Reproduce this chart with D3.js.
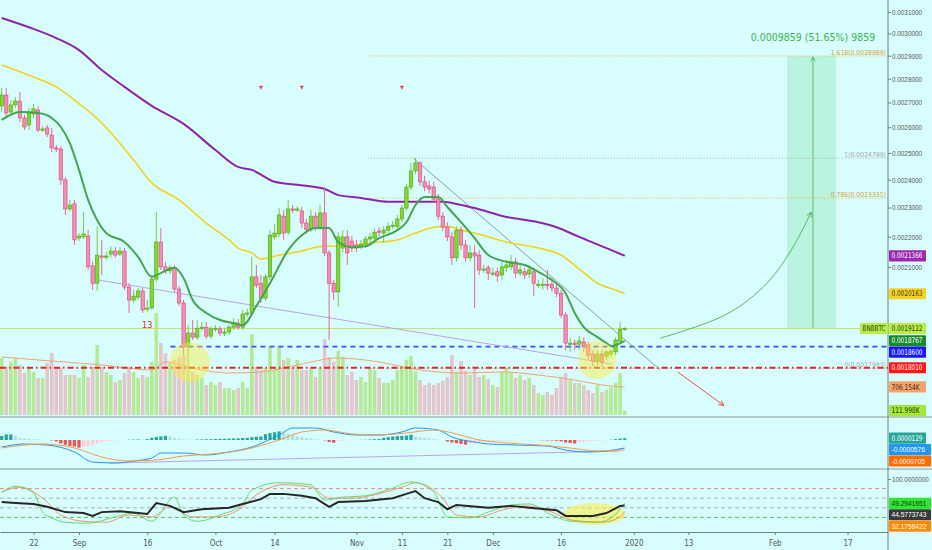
<!DOCTYPE html>
<html>
<head>
<meta charset="utf-8">
<script src="https://cdn.jsdelivr.net/npm/d3@7.9.0/dist/d3.min.js"></script>
<style>
  html, body { margin: 0; padding: 0; background: #d8fdfd; }
  svg { display: block; font-family: "Liberation Sans Narrow", "DejaVu Sans Condensed", "Liberation Sans", sans-serif; }
</style>
</head>
<body>
<svg id="chart" width="932" height="550"></svg>
<script>
// BNBBTC daily, prices in units of 1e-6 BTC, volume in K
const START = Date.UTC(2019, 7, 15);
const DAY = 864e5;

const open = [2686,2731,2661,2690,2706,2637,2609,2653,2669,2593,
  2597,2569,2519,2515,2399,2295,2313,2195,2199,2202,
  2104,2049,2136,2133,2142,2152,2142,2152,2037,1997,
  2006,2025,1973,1973,2062,2182,2101,2088,2098,2031,
  1988,1859,1899,1887,1913,1916,1890,1911,1911,1899,
  1902,1916,1928,1916,1955,1958,2069,2049,2003,2069,
  2199,2209,2270,2215,2295,2295,2288,2246,2225,2270,
  2232,2281,2146,2049,2022,2162,2199,2185,2172,2168,
  2175,2192,2195,2219,2212,2222,2235,2235,2260,2298,
  2373,2432,2462,2392,2377,2373,2330,2270,2232,2199,
  2130,2222,2172,2130,2146,2139,2094,2098,2081,2085,
  2075,2098,2101,2117,2081,2085,2078,2085,2046,2046,
  2046,2046,2034,2018,1952,1870,1870,1867,1873,1865,
  1839,1819,1839,1833,1839,1845,1876,1910];
const high = [2761,2761,2710,2723,2744,2649,2678,2694,2686,2605,
  2609,2597,2530,2526,2410,2327,2327,2212,2284,2222,
  2117,2235,2189,2149,2168,2165,2165,2162,2049,2028,
  2034,2034,1997,2075,2284,2229,2117,2107,2107,2040,
  1997,1922,1937,1937,1931,1931,1919,1922,1919,1913,
  1925,1943,1940,1967,1970,2133,2107,2075,2078,2222,
  2242,2298,2291,2327,2309,2305,2302,2260,2291,2284,
  2309,2373,2155,2059,2215,2222,2222,2202,2189,2189,
  2202,2212,2229,2232,2235,2249,2253,2274,2309,2384,
  2462,2480,2468,2414,2395,2392,2348,2284,2249,2215,
  2235,2235,2189,2172,2172,2155,2107,2107,2098,2098,
  2117,2123,2139,2130,2107,2098,2107,2098,2059,2065,
  2091,2065,2046,2028,1961,1884,1879,1890,1887,1873,
  1850,1850,1850,1850,1853,1887,1931,1916];
const low = [2661,2637,2649,2678,2621,2589,2589,2637,2581,2581,
  2561,2503,2503,2381,2274,2288,2172,2185,2192,2091,
  2028,2025,2075,2123,2130,2130,2136,2028,1958,1988,
  1997,1958,1961,1967,2053,2091,2078,2078,2022,1979,
  1836,1799.3,1879,1879,1905,1882,1882,1902,1890,1890,
  1893,1908,1908,1908,1946,1949,2034,1988,1994,2059,
  2189,2199,2189,2205,2281,2284,2229,2209,2215,2219,
  2222,2136,1879,1997,1976,2149,2107,2149,2149,2158,
  2162,2179,2182,2202,2179,2212,2225,2225,2249,2288,
  2362,2421,2377,2358,2351,2316,2256,2219,2185,2107,
  2117,2155,2117,2120,1973,2075,2081,2059,2072,2053,
  2059,2085,2091,2065,2072,2062,2065,2009,2034,2028,
  2028,2022,2006,1943,1850,1845,1850,1850,1845,1822,
  1805,1805,1803,1822,1830,1836,1870,1905];
const close = [2731,2657,2690,2706,2637,2601,2657,2674,2589,2593,
  2573,2519,2515,2399,2295,2309,2189,2202,2209,2101,
  2049,2139,2133,2136,2152,2139,2152,2037,1997,2009,
  2025,1967,1973,2062,2182,2101,2088,2098,2031,1988,
  1859,1899,1887,1913,1916,1890,1911,1913,1899,1902,
  1916,1928,1916,1955,1958,2069,2043,2003,2069,2205,
  2212,2274,2212,2295,2291,2295,2246,2225,2270,2232,
  2281,2146,2049,2022,2199,2199,2146,2162,2162,2175,
  2192,2199,2215,2215,2222,2235,2239,2260,2298,2373,
  2432,2462,2392,2373,2366,2330,2270,2232,2199,2130,
  2222,2172,2130,2146,2136,2091,2094,2081,2081,2072,
  2101,2107,2117,2081,2091,2075,2091,2049,2046,2046,
  2043,2034,2018,1952,1870,1870,1867,1876,1859,1836,
  1819,1839,1816,1845,1847,1879,1910,1912.2];
const volume = [1436,1210,1336,1436,1260,1058,1184,1084,932,932,
  1310,1562,1184,1184,1008,1008,1008,932,1260,958,
  1210,1764,1210,1084,1008,832,882,1058,1210,1084,
  932,1008,958,1336,2570,1814,1562,1310,1386,1462,
  1512,1210,1084,1008,932,756,832,756,832,680,
  680,630,680,832,680,2041,1210,1134,1184,1714,
  1134,1714,1386,1436,1184,1386,1134,1134,1184,958,
  1184,1915,1462,1336,1613,1462,1008,1084,882,958,
  832,1184,1134,932,806,806,882,1134,1210,1386,
  1487,1100,882,756,806,756,806,857,958,1512,
  1084,1360,1109,1008,1159,958,1008,907,756,706,
  1084,1184,1084,932,1008,882,932,756,554,504,
  580,504,680,958,1058,882,806,806,756,630,
  554,756,580,630,706,806,1058,112];

// moving averages (day index, value)
const emaFastDay = [0,4,8,11,13,15,17,19,21,23,27,30,33,35,38,40,42,45,48,51,53,56,59,63,66,69,72,74,77,80,83,87,89,91,93,96,98,101,104,107,111,115,118,121,124,126,128,131,133,134,137];
const emaFastVal = [2629,2661,2657,2637,2601,2537,2436,2327,2256,2212,2182,2133,2069,2081,2098,2065,1997,1958,1937,1928,1922,1979,2049,2155,2205,2229,2229,2182,2165,2168,2195,2222,2249,2309,2337,2337,2302,2249,2195,2139,2117,2107,2085,2059,2018,1958,1916,1887,1870,1862,1876.7];
const emaMidDay = [0,7,12,16,22,29,33,39,45,50,52,55,57,61,65,71,76,81,87,91,95,98,101,104,111,118,123,127,131,135,137];
const emaMidVal = [2859,2807,2765,2710,2617,2473,2388,2327,2246,2189,2162,2146,2126,2139,2149,2168,2168,2179,2189,2212,2232,2235,2222,2212,2182,2162,2139,2094,2049,2028,2016.3];
const emaSlowDay = [0,7,12,17,22,27,33,40,47,52,55,60,65,71,74,79,85,91,97,101,104,111,118,122,127,133,137];
const emaSlowVal = [3072,3021,2979,2925,2837,2765,2686,2613,2511,2447,2436,2392,2381,2366,2344,2334,2320,2320,2320,2309,2298,2267,2249,2232,2199,2162,2136.6];
const volMaDay = [0,8,22,33,36,44,50,57,65,74,83,92,101,110,118,126,132,137];
const volMaVal = [1462,1386,1260,1134,1336,1134,1058,1084,1260,1436,1336,1134,1058,1084,1008,882,756,706.154];

// MACD in units of 1e-7
const macdDay = [0,5,10,16,20,25,29,33,35,40,45,50,55,61,64,69,73,78,83,88,91,96,99,104,107,113,120,124,129,133,137];
const macdVal = [-504,-288,-360,-864,-1584,-1656,-1512,-1296,-936,-936,-1080,-864,-504,360,864,864,576,360,360,576,864,720,216,-144,-288,-360,-432,-720,-864,-792,-576];
const signalDay = [0,9,16,22,28,34,40,46,53,61,66,71,77,82,89,95,100,104,111,118,125,131,137];
const signalVal = [-576,-288,-576,-1224,-1512,-1440,-1152,-1008,-720,0,576,720,432,360,504,720,432,72,-216,-360,-576,-792,-705];
const histVal = [290,400,400,300,150,100,80,60,40,20,
  0,-30,-100,-250,-350,-430,-470,-550,-480,-450,
  -350,-250,-150,-100,-60,-30,-10,0,20,30,
  40,30,60,150,220,260,300,260,150,80,
  40,20,10,30,40,50,60,70,80,90,
  100,110,120,140,150,200,230,250,420,500,
  560,620,540,450,340,260,190,140,100,60,
  20,-30,-150,-200,-80,-40,-20,-10,0,10,
  20,40,60,70,150,200,250,280,300,320,
  380,250,200,150,100,60,30,0,-100,-180,
  -230,-280,-330,-260,-230,-200,-150,-120,-100,-80,
  -60,-40,-30,-20,-10,-5,0,0,-10,-20,
  -30,-40,-60,-100,-180,-220,-250,-150,-110,-90,
  -70,-50,-30,-10,20,60,100,129];

// oscillator pane
const oscDay = [0,3,7,10,14,18,20,22,26,30,32,34,37,40,44,50,53,57,59,62,66,69,72,74,80,86,89,91,93,96,98,100,107,112,116,122,124,130,133,136,137];
const oscVal = [52,50,48,42,31,29,23,31,33,29,27,50,44,31,37,40,48,58,69,69,65,60,42,52,54,60,69,75,60,52,37,46,40,44,40,35,23,23,29,44,44.5773743];
const bandUpDay = [0,3,7,9,11,14,19,25,29,33,38,40,43,48,53,55,61,68,71,75,80,86,90,95,98,103,107,112,116,121,125,131,134,137];
const bandUpVal = [71,85,71,31,19,10,8,21,29,12,62,25,12,25,48,77,92,88,56,62,65,81,94,73,21,19,31,46,48,25,12,10,19,49.2941951];
const bandLoDay = [0,4,9,13,18,23,28,33,37,42,47,52,56,62,68,72,77,82,88,91,97,100,105,110,115,121,125,132,136,137];
const bandLoVal = [73,83,60,25,12,10,25,21,42,21,21,35,67,88,83,60,60,67,83,92,60,25,21,35,44,31,15,10,21,32.1758422];
const oscLevels = [80, 60, 40, 20];

// drawings
const fibLevels = ['1.618', '1', '0.786', '0'];
const fibPrices = [2898.9, 2479.9, 2333.5, 1799.3];
const fibStartDay = 80.5;
const projDays = [172.7, 183.5];
const projPrices = [1912.2, 2898.9];
const projMidDay = 178.4;
const arcDay = [144.8, 159.5, 168.3, 174, 178];
const arcPrice = [1884, 1955, 2049, 2165, 2284];
const downDay = [148.7, 158.8];
const downPrice = [1789, 1700];
const peakTrendDay = [90.5, 144.8];
const peakTrendPrice = [2480, 1795];
const supportDay = [21.2, 134.2];
const supportPrice = [2059, 1811];
const macdTrendDay = [23.8, 136];
const macdTrendVal = [-1656, -792];
const sellMarkDay = [57, 66, 88];
const sellMarkPrice = 2761;

const tickDates = ['2019-08-22','2019-09-01','2019-09-16','2019-10-01','2019-10-14','2019-11-01','2019-11-11',
  '2019-11-21','2019-12-01','2019-12-16','2020-01-01','2020-01-13','2020-02-01','2020-02-17'];
const priceTicks = [2100,2200,2300,2400,2500,2600,2700,2800,2900,3000,3100];

// ---------------------------------------------------------------
const W = 932, AX = 888;
const MAIN_B = 415, MACD_T = 417, MACD_B = 469, OSC_B = 532;
const toDate = i => new Date(START + i * DAY);

const x = d3.scaleUtc().domain([toDate(-0.374), toDate(194.9)]).range([0, AX]);
const xd = i => x(toDate(i));
const y = d3.scaleLog().domain([1675.6, 3157.3]).range([MAIN_B, 0]);
const yVol = d3.scaleLinear().domain([0, 2570]).range([MAIN_B, 313]);
const yMacd = d3.scaleLinear().domain([-2088, 1656]).range([MACD_B, MACD_T]);
const yOsc = d3.scaleLinear().domain([0, 100]).range([527, 479]);

const svg = d3.select('#chart');
svg.append('rect').attr('width', W).attr('height', 550).attr('fill', '#d8fdfd');

const defs = svg.append('defs');
[['clipMain', 0, 0, AX, 416], ['clipMacd', 0, MACD_T, AX, MACD_B - MACD_T], ['clipOsc', 0, MACD_B, AX, OSC_B - MACD_B]]
  .forEach(([id, cx, cy, cw, ch]) => {
    defs.append('clipPath').attr('id', id).append('rect').attr('x', cx).attr('y', cy).attr('width', cw).attr('height', ch);
  });
function arrowHead(id, color) {
  defs.append('marker').attr('id', id).attr('viewBox', '0 0 10 10').attr('refX', 9).attr('refY', 5)
    .attr('markerWidth', 7).attr('markerHeight', 7).attr('orient', 'auto-start-reverse')
    .append('path').attr('d', 'M1,1 L9,5 L1,9').attr('fill', 'none').attr('stroke', color).attr('stroke-width', 1.3);
}
arrowHead('arrGreen', '#4caf50');
arrowHead('arrRed', '#ef3b3b');

const candles = open.map((o, i) => ({ i, o, h: high[i], l: low[i], c: close[i], v: volume[i] }));
const pts = (days, vals) => days.map((d, k) => [d, vals[k]]);

// ---------------- main pane ----------------
const gMain = svg.append('g').attr('clip-path', 'url(#clipMain)');

// volume
gMain.append('g').selectAll('rect').data(candles).join('rect')
  .attr('x', d => xd(d.i) - 1.8).attr('width', 3.6)
  .attr('y', d => yVol(d.v)).attr('height', d => MAIN_B - yVol(d.v))
  .attr('fill', d => d.c >= d.o ? '#b4ea96' : '#e2c6cb');
gMain.append('path').datum(pts(volMaDay, volMaVal))
  .attr('d', d3.line().x(d => xd(d[0])).y(d => yVol(d[1])).curve(d3.curveMonotoneX))
  .attr('fill', 'none').attr('stroke', '#f2a36e').attr('stroke-width', 1);

// projection box
gMain.append('rect')
  .attr('x', xd(projDays[0])).attr('width', xd(projDays[1]) - xd(projDays[0]))
  .attr('y', y(projPrices[1])).attr('height', y(projPrices[0]) - y(projPrices[1]))
  .attr('fill', 'rgba(70, 205, 110, 0.2)');
gMain.append('line')
  .attr('x1', xd(projMidDay)).attr('x2', xd(projMidDay))
  .attr('y1', y(projPrices[0])).attr('y2', y(projPrices[1]) + 1)
  .attr('stroke', '#4caf50').attr('stroke-width', 0.8).attr('marker-end', 'url(#arrGreen)');

// fib levels
fibLevels.forEach((lv, k) => {
  const col = (lv === '1' || lv === '0') ? '#a9a9a9' : '#e8b04a';
  const yy = y(fibPrices[k]);
  gMain.append('line').attr('x1', xd(fibStartDay)).attr('x2', AX).attr('y1', yy).attr('y2', yy)
    .attr('stroke', col).attr('stroke-width', 1).attr('stroke-dasharray', '1,2');
});

// horizontal levels
gMain.append('line').attr('x1', 0).attr('x2', 860).attr('y1', y(close[close.length - 1])).attr('y2', y(close[close.length - 1]))
  .attr('stroke', '#c3e56a').attr('stroke-width', 1);
gMain.append('line').attr('x1', xd(37.1)).attr('x2', AX).attr('y1', y(1860)).attr('y2', y(1860))
  .attr('stroke', '#3d4dff').attr('stroke-width', 1.6).attr('stroke-dasharray', '5,4');
gMain.append('line').attr('x1', 0).attr('x2', AX).attr('y1', y(1801)).attr('y2', y(1801))
  .attr('stroke', '#e3262a').attr('stroke-width', 1.8).attr('stroke-dasharray', '6,3,1.5,3');

// trend lines
const lineP = d3.line().x(d => xd(d[0])).y(d => y(d[1]));
gMain.append('path').datum(pts(supportDay, supportPrice)).attr('d', lineP)
  .attr('fill', 'none').attr('stroke', '#b9a4ea').attr('stroke-width', 1);
gMain.append('path').datum(pts(peakTrendDay, peakTrendPrice)).attr('d', lineP)
  .attr('fill', 'none').attr('stroke', '#8a8f8f').attr('stroke-width', 0.9);

// moving averages
const lineMA = d3.line().x(d => xd(d[0])).y(d => y(d[1])).curve(d3.curveMonotoneX);
gMain.append('path').datum(pts(emaSlowDay, emaSlowVal)).attr('d', lineMA)
  .attr('fill', 'none').attr('stroke', '#8e24aa').attr('stroke-width', 2);
gMain.append('path').datum(pts(emaMidDay, emaMidVal)).attr('d', lineMA)
  .attr('fill', 'none').attr('stroke', '#f1d21c').attr('stroke-width', 1.6);

// candles
const gC = gMain.append('g');
gC.selectAll('line').data(candles).join('line')
  .attr('x1', d => xd(d.i)).attr('x2', d => xd(d.i))
  .attr('y1', d => y(d.h)).attr('y2', d => y(d.l))
  .attr('stroke', d => d.c >= d.o ? '#7cc94a' : '#e26b91').attr('stroke-width', 1);
gC.selectAll('rect').data(candles).join('rect')
  .attr('x', d => xd(d.i) - 1.7).attr('width', 3.4)
  .attr('y', d => y(Math.max(d.o, d.c)))
  .attr('height', d => Math.max(1.2, Math.abs(y(d.o) - y(d.c))))
  .attr('fill', d => d.c >= d.o ? '#82d92c' : '#f48db2')
  .attr('stroke', d => d.c >= d.o ? '#4fa018' : '#d9467a').attr('stroke-width', 0.6);

gMain.append('path').datum(pts(emaFastDay, emaFastVal)).attr('d', lineMA)
  .attr('fill', 'none').attr('stroke', '#45a44f').attr('stroke-width', 2);

// highlights
[[41.4, 1817, 20, 20], [130.9, 1822, 19, 19]].forEach(([d, p, rx, ry]) => {
  gMain.append('ellipse').attr('cx', xd(d)).attr('cy', y(p)).attr('rx', rx).attr('ry', ry)
    .attr('fill', 'rgba(255, 236, 60, 0.45)');
});

// markers
gMain.selectAll('path.sell').data(sellMarkDay).join('path').attr('class', 'sell')
  .attr('d', d => `M${xd(d) - 2},${y(sellMarkPrice) - 2} L${xd(d) + 2},${y(sellMarkPrice) - 2} L${xd(d)},${y(sellMarkPrice) + 2}Z`)
  .attr('fill', '#e0405a');
gMain.append('text').attr('x', xd(32)).attr('y', y(1922) + 3).attr('text-anchor', 'middle')
  .attr('font-size', 9).attr('fill', '#e3262a').text('13');

// forecast arrows
gMain.append('path').datum(pts(arcDay, arcPrice))
  .attr('d', d3.line().x(d => xd(d[0])).y(d => y(d[1])).curve(d3.curveCatmullRom))
  .attr('fill', 'none').attr('stroke', '#4caf50').attr('stroke-width', 0.9).attr('marker-end', 'url(#arrGreen)');
gMain.append('path').datum(pts(downDay, downPrice)).attr('d', lineP)
  .attr('fill', 'none').attr('stroke', '#ef3b3b').attr('stroke-width', 0.9).attr('marker-end', 'url(#arrRed)');

// labels on drawings (not clipped)
svg.append('text').attr('x', xd(projMidDay)).attr('y', 41).attr('text-anchor', 'middle')
  .attr('font-size', 10.5).attr('fill', '#3cb54a').text('0.0009859 (51.65%) 9859');
fibLevels.forEach((lv, k) => {
  const col = (lv === '1' || lv === '0') ? '#a9a9a9' : '#dca53c';
  svg.append('text').attr('x', 886).attr('y', y(fibPrices[k]) - 1).attr('text-anchor', 'end')
    .attr('font-size', 6.8).attr('fill', col).text(`${lv}(${(fibPrices[k] * 1e-6).toFixed(7)})`);
});

// ---------------- MACD pane ----------------
const gMacd = svg.append('g').attr('clip-path', 'url(#clipMacd)');
gMacd.selectAll('rect').data(histVal).join('rect')
  .attr('x', (v, i) => xd(i) - 1.6).attr('width', 3.2)
  .attr('y', v => Math.min(yMacd(v), yMacd(0)))
  .attr('height', v => Math.abs(yMacd(v) - yMacd(0)))
  .attr('fill', (v, i) => {
    const prev = i > 0 ? histVal[i - 1] : v;
    if (v >= 0) return v >= prev ? '#26a69a' : '#b2dfdb';
    return v <= prev ? '#ef5350' : '#ffcdd2';
  });
const lineM = d3.line().x(d => xd(d[0])).y(d => yMacd(d[1])).curve(d3.curveMonotoneX);
gMacd.append('path').datum(pts(macdTrendDay, macdTrendVal)).attr('d', lineM)
  .attr('fill', 'none').attr('stroke', '#b9a4ea').attr('stroke-width', 1);
gMacd.append('path').datum(pts(macdDay, macdVal)).attr('d', lineM)
  .attr('fill', 'none').attr('stroke', '#2196f3').attr('stroke-width', 1);
gMacd.append('path').datum(pts(signalDay, signalVal)).attr('d', lineM)
  .attr('fill', 'none').attr('stroke', '#f39a4a').attr('stroke-width', 1);

// ---------------- oscillator pane ----------------
const gOsc = svg.append('g').attr('clip-path', 'url(#clipOsc)');
const levelColors = ['#e88a8a', '#a9b0b0', '#a9b0b0', '#55c25d'];
oscLevels.forEach((lv, k) => {
  gOsc.append('line').attr('x1', 0).attr('x2', AX).attr('y1', yOsc(lv)).attr('y2', yOsc(lv))
    .attr('stroke', levelColors[k]).attr('stroke-width', 1).attr('stroke-dasharray', '4,3');
});
gOsc.append('ellipse').attr('cx', xd(130.3)).attr('cy', yOsc(27)).attr('rx', 31).attr('ry', 11)
  .attr('fill', 'rgba(255, 236, 60, 0.55)');
const lineO = d3.line().x(d => xd(d[0])).y(d => yOsc(d[1])).curve(d3.curveMonotoneX);
gOsc.append('path').datum(pts(bandLoDay, bandLoVal)).attr('d', lineO)
  .attr('fill', 'none').attr('stroke', '#f08a5d').attr('stroke-width', 0.9);
gOsc.append('path').datum(pts(bandUpDay, bandUpVal)).attr('d', lineO)
  .attr('fill', 'none').attr('stroke', '#5ed35e').attr('stroke-width', 0.9);
gOsc.append('path').datum(pts(oscDay, oscVal))
  .attr('d', d3.line().x(d => xd(d[0])).y(d => yOsc(d[1])))
  .attr('fill', 'none').attr('stroke', '#262626').attr('stroke-width', 2);

// ---------------- frame & axes ----------------
[MACD_T, MACD_B].forEach(yy => {
  svg.append('line').attr('x1', 0).attr('x2', W).attr('y1', yy).attr('y2', yy).attr('stroke', '#8d9a9a').attr('stroke-width', 1);
});
svg.append('line').attr('x1', AX).attr('x2', AX).attr('y1', 0).attr('y2', 550).attr('stroke', '#6f7f7f').attr('stroke-width', 1);

const fmtTick = d => d.getUTCDate() === 1
  ? (d.getUTCMonth() === 0 ? d3.utcFormat('%Y')(d) : d3.utcFormat('%b')(d))
  : d3.utcFormat('%-d')(d);
const xAxis = svg.append('g').attr('transform', `translate(0,${OSC_B})`)
  .call(d3.axisBottom(x).tickValues(tickDates.map(s => new Date(s + 'T00:00:00Z'))).tickFormat(fmtTick).tickSize(3).tickSizeOuter(0));
xAxis.select('.domain').attr('stroke', '#6f7f7f');
xAxis.selectAll('.tick line').attr('stroke', '#6f7f7f');
xAxis.selectAll('text').attr('fill', '#555').attr('font-size', 8).attr('dy', '0.95em')
  .attr('font-family', '"Liberation Sans Narrow", "DejaVu Sans Condensed", sans-serif');

// right axis text: short labels condensed, long labels set small enough to fit
function fitText(sel, size9, size11) {
  sel.each(function () {
    const t = d3.select(this);
    if (this.textContent.length > 9) {
      t.attr('font-family', '"Liberation Sans", Arial, sans-serif').attr('font-size', size11).attr('textLength', null);
    } else {
      t.attr('font-size', size9).attr('textLength', 30).attr('lengthAdjust', 'spacingAndGlyphs');
    }
  });
}
function styleRightAxis(g) {
  g.select('.domain').remove();
  g.selectAll('.tick line').attr('stroke', '#6f7f7f');
  g.selectAll('text').attr('fill', '#555').attr('x', 4).call(fitText, 7.6, 6.3);
}
svg.append('g').attr('transform', `translate(${AX},0)`)
  .call(d3.axisRight(y).tickValues(priceTicks).tickFormat(v => (v * 1e-6).toFixed(7)).tickSize(3))
  .call(styleRightAxis);
svg.append('g').attr('transform', `translate(${AX},0)`)
  .call(d3.axisRight(yOsc).tickValues([100]).tickFormat(v => v.toFixed(7)).tickSize(3))
  .call(styleRightAxis);

// ---------------- value tags ----------------
function placeTags(tags) {
  tags.sort((a, b) => a.y - b.y);
  for (let k = 1; k < tags.length; k++) {
    if (tags[k].y < tags[k - 1].y + 11.4) tags[k].y = tags[k - 1].y + 11.4;
  }
  tags.forEach(t => {
    const g = svg.append('g').attr('transform', `translate(${AX + 1},${t.y})`);
    const long = t.text.length > 9;
    g.append('rect').attr('x', 0).attr('y', -5.6).attr('width', long ? 42 : 37).attr('height', 11.2).attr('rx', 1).attr('fill', t.bg);
    const tx = g.append('text').attr('x', 2.5).attr('y', 2.6).attr('fill', t.fg).text(t.text);
    if (long) {
      tx.attr('font-family', '"Liberation Sans", Arial, sans-serif').attr('font-size', 6.6);
    } else {
      tx.attr('font-size', 7.8).attr('textLength', Math.min(31, t.text.length * 3.5)).attr('lengthAdjust', 'spacingAndGlyphs');
    }
  });
}
const lastClose = close[close.length - 1];
placeTags([
  { y: y(emaSlowVal[emaSlowVal.length - 1]), text: (emaSlowVal[emaSlowVal.length - 1] * 1e-6).toFixed(7), bg: '#9c27b0', fg: '#fff' },
  { y: y(emaMidVal[emaMidVal.length - 1]), text: (emaMidVal[emaMidVal.length - 1] * 1e-6).toFixed(7), bg: '#f6d21e', fg: '#333' },
  { y: y(lastClose), text: (lastClose * 1e-6).toFixed(7), bg: '#b9ee48', fg: '#2a3a10' },
  { y: y(emaFastVal[emaFastVal.length - 1]), text: (emaFastVal[emaFastVal.length - 1] * 1e-6).toFixed(7), bg: '#178a2c', fg: '#fff' },
  { y: y(1860), text: '0.0018600', bg: '#1717ff', fg: '#fff' },
  { y: y(1801), text: '0.0018010', bg: '#ff1717', fg: '#fff' },
  { y: yVol(volMaVal[volMaVal.length - 1]), text: volMaVal[volMaVal.length - 1].toFixed(3) + 'K', bg: '#f7a46c', fg: '#3a2a1a' },
  { y: yVol(111.998), text: '111.998K', bg: '#a6e63a', fg: '#24380c' }
]);
placeTags([
  { y: yMacd(histVal[histVal.length - 1]), text: (histVal[histVal.length - 1] * 1e-7).toFixed(7), bg: '#26a69a', fg: '#fff' },
  { y: yMacd(macdVal[macdVal.length - 1]), text: (macdVal[macdVal.length - 1] * 1e-7).toFixed(7), bg: '#2196f3', fg: '#fff' },
  { y: yMacd(signalVal[signalVal.length - 1]), text: (signalVal[signalVal.length - 1] * 1e-7).toFixed(7), bg: '#ff6d00', fg: '#fff' }
]);
placeTags([
  { y: yOsc(bandUpVal[bandUpVal.length - 1]), text: bandUpVal[bandUpVal.length - 1].toFixed(7), bg: '#2fe62f', fg: '#143a14' },
  { y: yOsc(oscVal[oscVal.length - 1]), text: oscVal[oscVal.length - 1].toFixed(7), bg: '#3a3a3a', fg: '#fff' },
  { y: yOsc(bandLoVal[bandLoVal.length - 1]), text: bandLoVal[bandLoVal.length - 1].toFixed(7), bg: '#ff8a00', fg: '#fff' }
]);

// symbol tag left of the axis
const sym = svg.append('g').attr('transform', `translate(860,${y(lastClose)})`);
sym.append('rect').attr('x', 0).attr('y', -5.6).attr('width', 28).attr('height', 11.2).attr('fill', '#b9ee48');
sym.append('text').attr('x', 2.5).attr('y', 2.6).attr('font-size', 7.8).attr('fill', '#2a3a10')
  .attr('textLength', 23).attr('lengthAdjust', 'spacingAndGlyphs').text('BNBBTC');
</script>
</body>
</html>
